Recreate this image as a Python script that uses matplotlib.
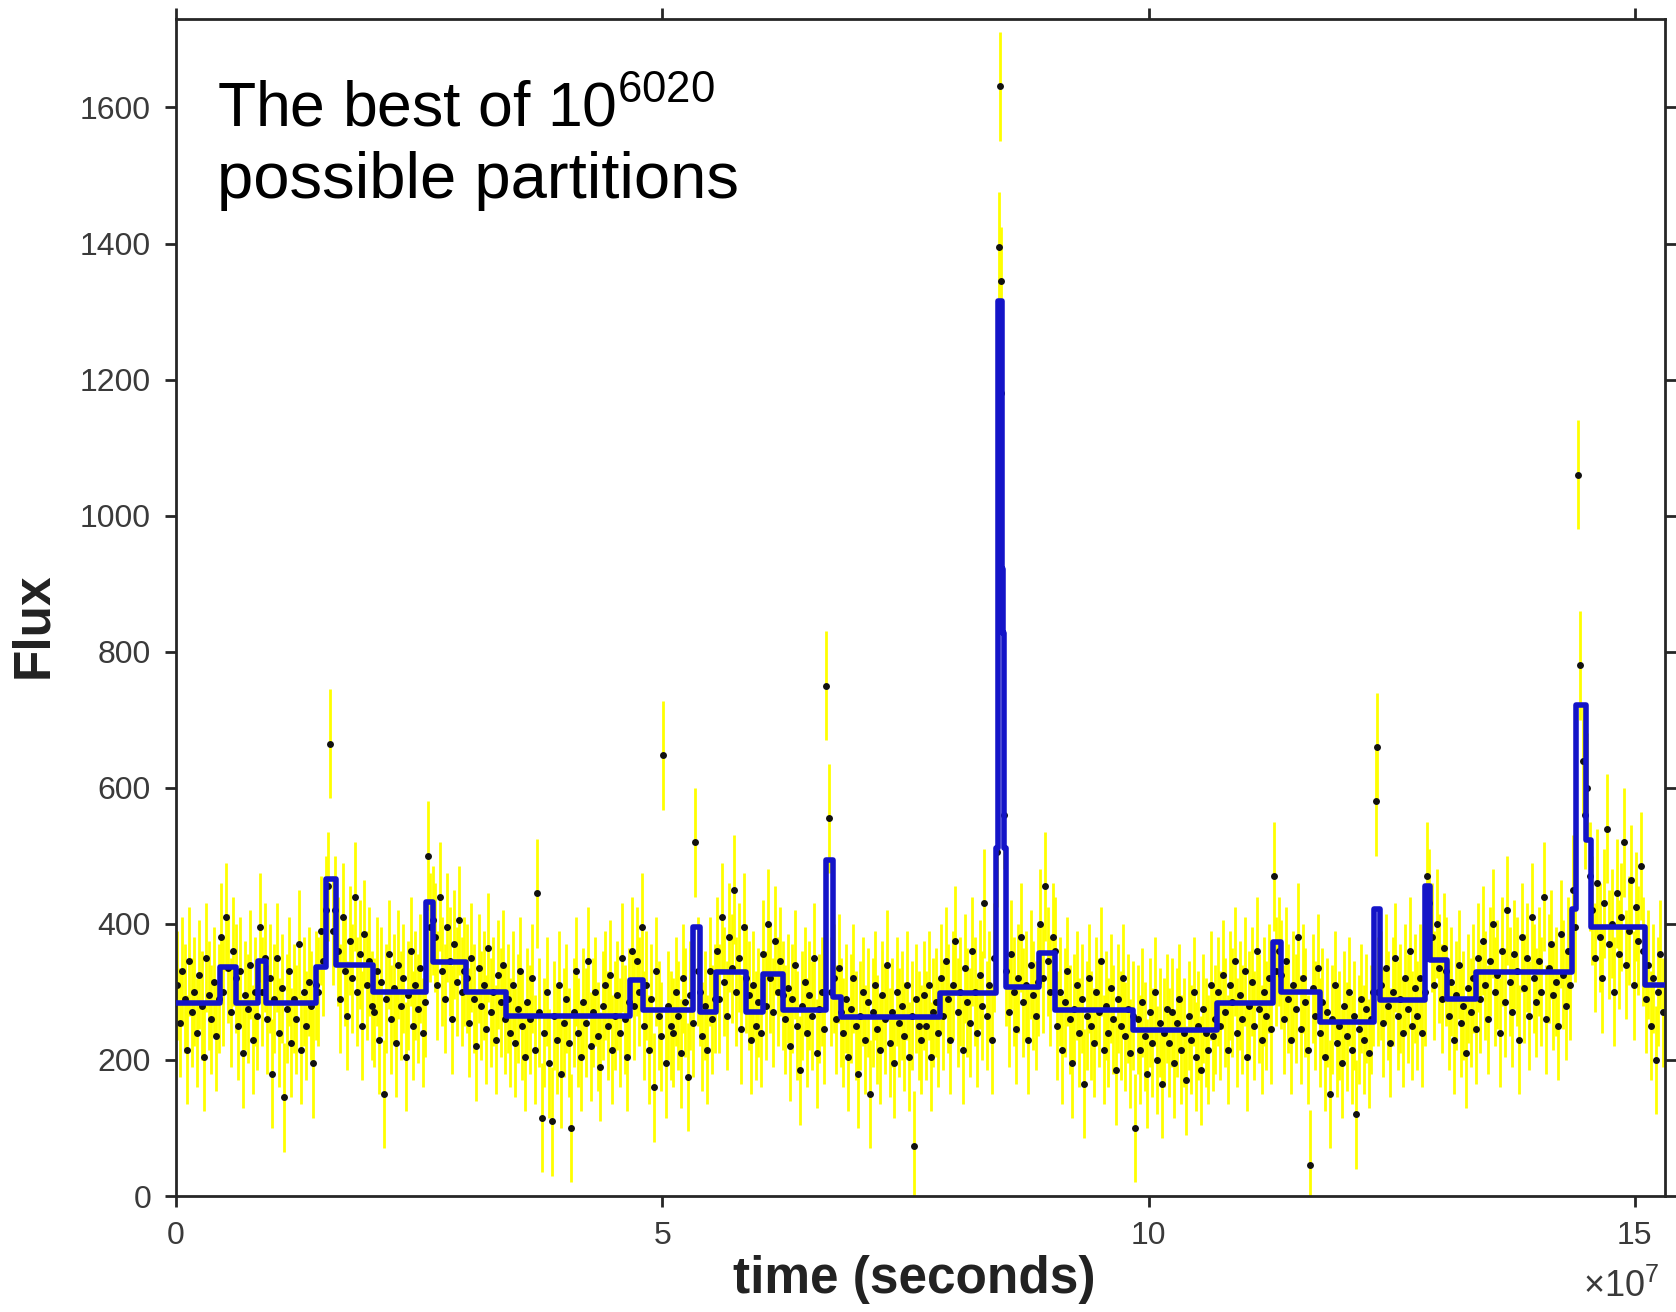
import numpy as np
import matplotlib
matplotlib.use('Agg')
from matplotlib import pyplot as plt

plt.rcParams['font.family'] = ['Liberation Sans', 'DejaVu Sans']
plt.rcParams['mathtext.fontset'] = 'custom'
plt.rcParams['mathtext.rm'] = 'Liberation Sans'
plt.rcParams['mathtext.it'] = 'Liberation Sans:italic'
plt.rcParams['mathtext.bf'] = 'Liberation Sans:bold'

## data (flux per time bin, bins of 0.025e7 s)

dt = 0.025e7

# 0 - 2.55e7 s
flux_a = [310, 255, 330, 290, 215, 345, 270, 300, 240, 325, 280, 205, 350, 295, 260, 315, 235, 290,
          380, 300, 410, 335, 270, 360, 320,
          250, 330, 210, 295, 275, 340, 230, 300, 265,
          395, 300, 350,
          260, 320, 180, 290, 350, 240, 305, 145, 275, 330, 225, 290, 260, 370, 215, 300, 250, 315, 280, 195, 310,
          300, 390, 345, 420,
          455, 665, 390, 420,
          360, 290, 410, 330, 265, 375, 320, 440, 300, 355, 250, 385, 310, 345, 280,
          270, 330, 230, 315, 150, 290, 355, 260, 305, 225, 340, 280, 320, 205, 295, 360, 250, 310, 275, 335, 240]

# 2.55e7 - 5.10e7 s
flux_b = [285,
          500, 395, 405,
          380, 310, 440, 330, 290, 395, 345, 260, 370, 315, 405, 300, 330,
          320, 255, 350, 290, 220, 335, 280, 310, 245, 365, 270, 300, 230, 325, 285, 340, 260,
          290, 240, 310, 225, 275, 330, 250, 205, 285, 260, 320, 215, 445, 270, 115, 240, 300, 195, 110, 265,
          230, 310, 180, 255, 290, 225, 100, 270, 330, 240, 205, 285, 255, 345, 220, 270, 300, 235, 190, 280,
          310, 250, 325, 215, 265, 295, 240, 350, 260, 205, 285,
          360, 280, 345, 300, 395,
          250, 310, 215, 290, 160, 330, 265, 235, 648, 195, 280, 250]

# 5.10e7 - 7.65e7 s
flux_c = [240, 300, 265, 210, 320, 285, 175, 295, 255,
          520, 330,
          300, 235, 280, 215, 330, 260, 290,
          360, 290, 410, 315, 265, 380, 335, 450, 300, 350, 245, 395, 320,
          295, 230, 310, 250, 285, 240,
          355, 280, 400, 320, 270, 375, 300, 345, 295,
          260, 305, 220, 290, 340, 250, 185, 280, 315, 240, 295, 265, 350, 210, 275, 300, 245,
          750, 555, 300,
          320, 260, 335, 270,
          240, 290, 205, 275, 320, 250, 180, 265, 300, 230, 285, 150, 270, 310, 245, 215,
          295, 260, 340, 225, 270, 195, 300, 255, 280, 235, 310, 205, 265, 74, 290, 250]

# 7.65e7 - 10.20e7 s
flux_d = [230, 295, 250, 310, 205, 270, 285, 240,
          320, 265, 345, 290, 230, 310, 375, 270, 300, 215, 335, 285, 255, 360, 300, 240, 325, 280, 430, 265,
          310, 230, 350,
          505,
          1395, 1345,
          560,
          330, 270, 355, 300, 245, 320, 380, 285, 310, 230, 340, 295, 265, 315,
          400, 320, 455, 345, 300, 380, 360,
          250, 300, 215, 285, 330, 260, 195, 275, 310, 240, 290, 165, 265, 320, 250, 225,
          300, 270, 345, 215, 280, 240, 305, 260, 185, 290, 250, 320, 235, 275, 210, 265,
          100, 260, 215, 285, 235, 180, 270, 225, 300, 200, 255, 165, 240, 275]

# 10.20e7 - 12.75e7 s
flux_e = [225, 270, 195, 255, 290, 215, 240, 170, 265, 230, 300, 205, 250, 185, 275, 240, 215, 310, 235, 260,
          300, 250, 325, 270, 215, 310, 285, 345, 240, 295, 260, 330, 205, 280, 315, 250, 360, 275, 230, 300,
          265, 320, 245,
          470, 330, 360,
          325, 260, 345, 290, 230, 310, 275, 380, 245, 320, 285, 215, 46, 305, 265, 335,
          240, 285, 205, 270, 150, 260, 310, 225, 250, 195, 280, 235, 300, 215, 265, 120, 245, 290, 230, 275,
          210, 260, 300,
          580, 300,
          310, 255, 335, 280, 225, 300, 350, 265, 290, 240, 320, 275, 360, 250, 305]

# 12.75e7 - 15.30e7 s
flux_f = [265, 320, 240, 300,
          470, 430,
          380, 310, 400, 335, 290, 365, 330,
          265, 315, 230, 295, 340, 255, 280, 210, 305, 270, 320, 245,
          350, 290, 375, 310, 260, 345, 400, 300, 325, 240, 360, 285, 420, 315, 270, 355, 330, 230, 380, 305,
          350, 265, 410, 320, 285, 345, 300, 440, 260, 335, 370, 295, 315, 250, 385, 325, 280, 360, 310,
          450, 395,
          1060, 780, 640, 560,
          600, 470,
          420, 350, 460, 380, 320, 430, 540, 370, 400, 300, 445, 355, 410, 520, 340, 390, 465, 310, 425, 375,
          485, 360,
          290, 340, 250, 320, 200, 300, 355, 270]

# extra samples inside the two short flares
flare_t = [8.468e7, 8.478e7, 12.35e7]
flare_flux = [1631, 1181, 660]

flux_err = 80

# Bayesian blocks: change points (units of 1e7 s) and block heights
block_edges = [0, 0.448, 0.62, 0.842, 0.928, 1.443, 1.545, 1.648, 2.025, 2.573, 2.64, 2.985, 3.396,
               4.664, 4.80, 5.315, 5.383, 5.555, 5.864, 6.034, 6.240, 6.686, 6.754, 6.840, 7.86,
               8.43, 8.455, 8.49, 8.50, 8.51, 8.53, 8.87, 9.04, 9.84, 10.70, 11.28, 11.36, 11.76,
               12.32, 12.375, 12.84, 12.89, 13.07, 13.37, 14.35, 14.40, 14.50, 14.55, 15.10, 15.31]
block_levels = [284, 337, 284, 346, 283, 337, 466, 339, 300, 432, 344, 300, 264,
                317, 273, 395, 271, 329, 271, 327, 273, 494, 293, 263, 299,
                512, 1316, 921, 827, 512, 307, 357, 273, 244, 284, 373, 300,
                256, 422, 288, 455, 347, 289, 329, 422, 721, 523, 395, 310]


## plot

flux = np.concatenate([flux_a, flux_b, flux_c, flux_d, flux_e, flux_f]).astype(float)
t = (np.arange(len(flux)) + 0.5) * dt
t = np.concatenate([t, flare_t])
flux = np.concatenate([flux, flare_flux])

fig = plt.figure(figsize=(16.76, 13.12), dpi=100)
ax = fig.add_axes([176/1676, 1 - 1196/1312, (1665 - 176)/1676, (1196 - 19)/1312])

ax.vlines(t, flux - flux_err, flux + flux_err, color='#ffff00', lw=2.0, zorder=1)
ax.plot(t, flux, 'o', color='#111111', ms=5.0, mew=0, zorder=2)

edges = np.array(block_edges) * 1e7
levels = block_levels + [block_levels[-1]]
ax.step(edges, levels, where='post', color='#1414c8', lw=4.0, zorder=3)

ax.set_xlim(0, 15.31e7)
ax.set_ylim(0, 1730)
ax.set_xticks([0, 5e7, 10e7, 15e7])
ax.set_xticklabels(['0', '5', '10', '15'])
ax.set_yticks(range(0, 1601, 200))

for s in ax.spines.values():
    s.set_linewidth(2.0)
    s.set_color('#262626')
ax.tick_params(direction='out', length=8, width=2.0, color='#262626',
               top=True, right=True, labelsize=23, labelcolor='#3a3a3a', pad=10)

fig.text(34/1676, 1 - 625/1312, 'Flux', rotation=90, ha='center', va='center',
         fontsize=37, fontweight='bold', color='#222222')
fig.text(914/1676, 1 - 1280/1312, 'time (seconds)', ha='center', va='center',
         fontsize=37, fontweight='bold', color='#222222')
fig.text(1583/1676, 1 - 1297/1312, r'$\times$10$^{7}$', ha='left', va='baseline',
         fontsize=26, color='#3a3a3a')

fig.text(217/1676, 1 - 126/1312, r'The best of 10$^{6020}$', ha='left', va='baseline',
         fontsize=45, color='black')
fig.text(217/1676, 1 - 198/1312, 'possible partitions', ha='left', va='baseline',
         fontsize=47, color='black')

plt.savefig('out.png', dpi=100)
